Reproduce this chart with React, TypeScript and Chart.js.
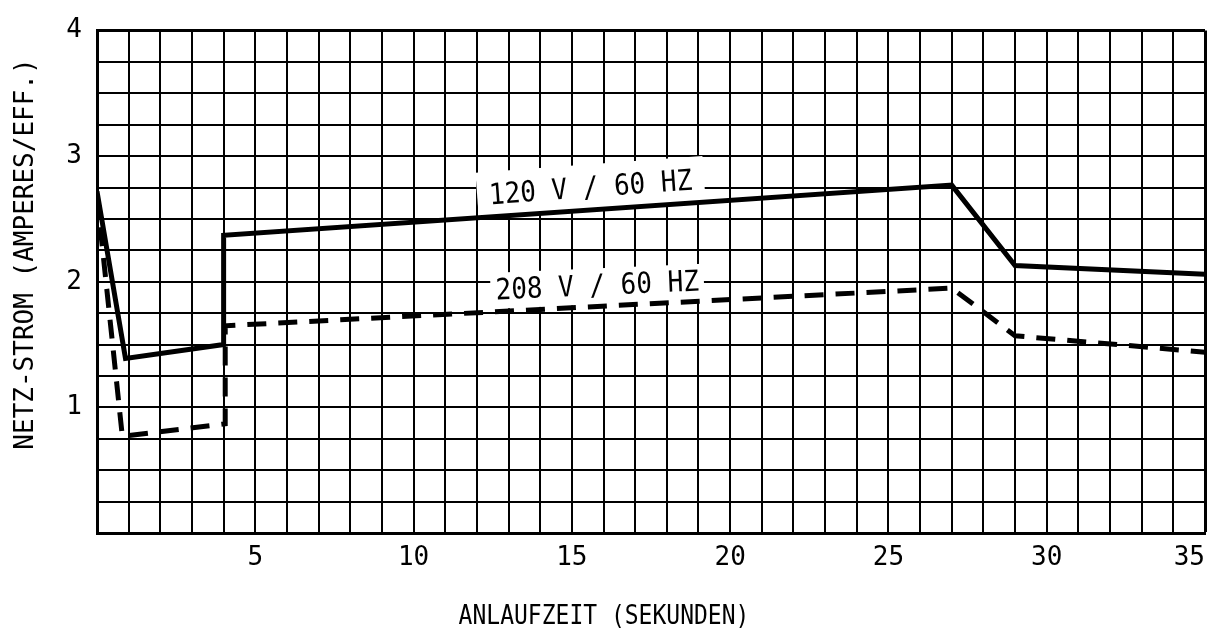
import React, { useEffect, useRef } from 'react';
import { Chart, registerables } from 'chart.js';

Chart.register(...registerables);

// ---- data ----
const seconds120 = [0, 0.9, 4, 4, 27, 29, 35];
const amps120 = [2.72, 1.39, 1.5, 2.37, 2.77, 2.13, 2.06];
const seconds208 = [0, 0.8, 4.05, 4.05, 27, 29, 35];
const amps208 = [2.68, 0.77, 0.87, 1.65, 1.95, 1.57, 1.44];

const xTickLabels = [5, 10, 15, 20, 25, 30, 35];
const yTickLabels = [1, 2, 3, 4];

const seriesNames = ['120 V / 60 HZ', '208 V / 60 HZ'];
// anchor of each in-plot series label, in data units (seconds, amperes)
const seriesLabelSeconds = [15.59, 15.8];
const seriesLabelAmps = [2.76, 1.98];
const seriesLabelAngle = [-4.2, -2.5];

const xTitle = 'ANLAUFZEIT (SEKUNDEN)';
const yTitle = 'NETZ-STROM (AMPERES/EFF.)';

const FONT = '"DejaVu Sans Mono", "Liberation Mono", monospace';
const labelBoxes = [
  { padX: 12, top: 22, bottom: 24 },
  { padX: 5, top: 16, bottom: 20 },
];

const labelPlugin = {
  id: 'seriesLabelsAndTitles',
  beforeDatasetsDraw(chart: any) {
    const { ctx } = chart;
    const x = chart.scales.x;
    const y = chart.scales.y;
    ctx.save();
    ctx.font = `26px ${FONT}`;
    seriesNames.forEach((t, i) => {
      const px = x.getPixelForValue(seriesLabelSeconds[i]);
      const py = y.getPixelForValue(seriesLabelAmps[i]);
      const w = ctx.measureText(t).width;
      const b = labelBoxes[i];
      ctx.save();
      ctx.translate(px, py);
      ctx.rotate((seriesLabelAngle[i] * Math.PI) / 180);
      ctx.fillStyle = '#fff';
      ctx.fillRect(-w / 2 - b.padX, -b.top, w + 2 * b.padX, b.top + b.bottom);
      ctx.fillStyle = '#000';
      ctx.textAlign = 'center';
      ctx.textBaseline = 'alphabetic';
      ctx.scale(1, 1.12);
      ctx.fillText(t, 0, 9.5);
      ctx.restore();
    });
    ctx.restore();
  },
  afterDraw(chart: any) {
    const { ctx } = chart;
    ctx.save();
    ctx.fillStyle = '#000';
    ctx.textAlign = 'center';
    ctx.textBaseline = 'alphabetic';
    ctx.font = `23px ${FONT}`;
    ctx.save();
    ctx.translate(604, 624);
    ctx.scale(1, 1.15);
    ctx.fillText(xTitle, 0, 0);
    ctx.restore();
    ctx.translate(23, 254);
    ctx.rotate(-Math.PI / 2);
    ctx.font = `26px ${FONT}`;
    ctx.fillText(yTitle, 0, 9.5);
    ctx.restore();
  },
};

export default function App() {
  const canvasRef = useRef<HTMLCanvasElement | null>(null);

  useEffect(() => {
    const canvas = canvasRef.current;
    if (!canvas) return;
    const chart = new Chart(canvas, {
      type: 'line',
      data: {
        datasets: [
          {
            label: seriesNames[0],
            data: seconds120.map((s, i) => ({ x: s, y: amps120[i] })),
            borderColor: '#000',
            borderWidth: 5,
            pointRadius: 0,
            tension: 0,
            fill: false,
          },
          {
            label: seriesNames[1],
            data: seconds208.map((s, i) => ({ x: s, y: amps208[i] })),
            borderColor: '#000',
            borderWidth: 5,
            borderDash: [19, 12],
            pointRadius: 0,
            tension: 0,
            fill: false,
          },
        ],
      },
      options: {
        responsive: false,
        animation: false,
        layout: { padding: { top: 25, right: 9, left: 0, bottom: 0 } },
        plugins: {
          legend: { display: false },
          tooltip: { enabled: false },
          title: { display: false },
        },
        scales: {
          x: {
            type: 'linear',
            min: 0,
            max: 35,
            afterFit: (s: any) => {
              s.height = 105;
            },
            ticks: {
              stepSize: 1,
              autoSkip: false,
              maxRotation: 0,
              align: 'inner',
              padding: 10,
              color: '#000',
              font: { family: FONT, size: 26 },
              callback: (v: any) => (xTickLabels.includes(Number(v)) ? String(v) : ''),
            },
            grid: {
              color: '#000',
              lineWidth: (c: any) => (c.tick && c.tick.value === 35 ? 3 : 2),
              drawTicks: false,
            },
            border: { color: '#000', width: 3 },
          },
          y: {
            type: 'linear',
            min: 0,
            max: 4,
            afterFit: (s: any) => {
              s.width = 97;
            },
            ticks: {
              stepSize: 0.25,
              autoSkip: false,
              padding: 15,
              color: '#000',
              font: { family: FONT, size: 26 },
              callback: (v: any) => (yTickLabels.includes(Number(v)) ? String(v) : ''),
            },
            grid: {
              color: '#000',
              lineWidth: (c: any) => (c.tick && c.tick.value === 4 ? 3 : 2),
              drawTicks: false,
            },
            border: { color: '#000', width: 3 },
          },
        },
      },
      plugins: [labelPlugin],
    });
    return () => chart.destroy();
  }, []);

  return (
    <div style={{ position: 'absolute', left: 0, top: 0, width: 1215, height: 638, background: '#fff' }}>
      <canvas ref={canvasRef} width={1215} height={638} style={{ display: 'block' }} />
    </div>
  );
}
